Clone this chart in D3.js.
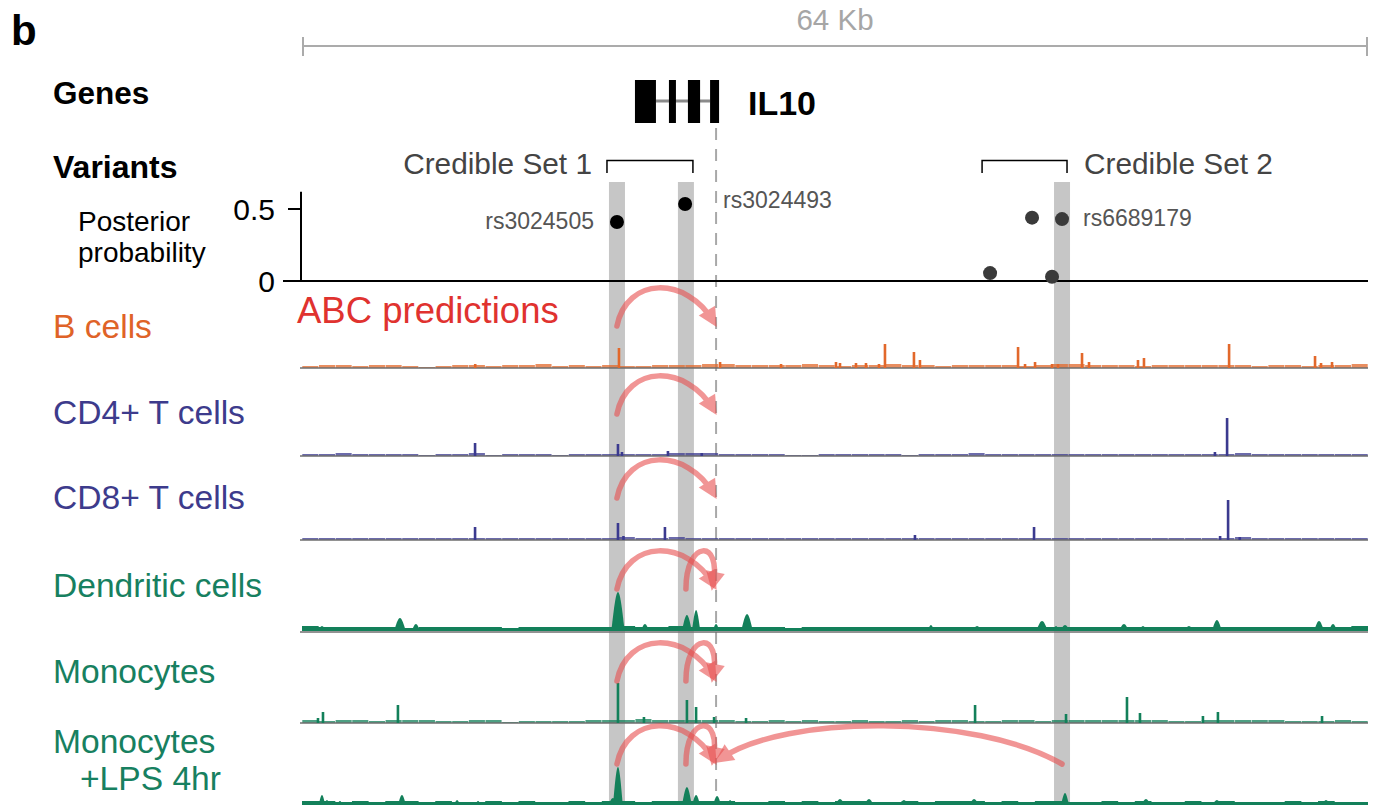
<!DOCTYPE html>
<html><head><meta charset="utf-8">
<script src="https://cdn.jsdelivr.net/npm/d3@7"></script>
<style>
body{margin:0;background:#fff}
svg{display:block}
text{font-family:"Liberation Sans",Arial,Helvetica,sans-serif}
</style>
</head><body>
<svg id="c" width="1376" height="805"></svg>
<script>
// ---------------- data ----------------
const regionKb = 64;
const scaleLabel = "64 Kb";
const geneName = "IL10";
const exons = [[19.99,21.25],[22.03,22.45],[23.17,23.9],[24.5,25.04]];
const intron = [21.25,24.5];
const tssKb = 24.86;
const credibleSets = ["Credible Set 1","Credible Set 2"];
const credibleStart = [18.31,40.83];
const credibleEnd = [23.47,45.93];
const variantPos = [18.91,23.0,41.31,43.83,45.63,45.03];
const variantPP  = [0.41,0.535,0.055,0.44,0.43,0.03];
const variantSet = [1,1,2,2,2,2];
const variantLabels = ["rs3024505","rs3024493","","","rs6689179",""];
const ppTicks = [0,0.5];
const ppTickLabels = ["0","0.5"];
const highlightKb = [18.91,23.05,45.63];
const trackNames = ["B cells","CD4+ T cells","CD8+ T cells","Dendritic cells","Monocytes","Monocytes|+LPS 4hr"];
const abcTitle = "ABC predictions";

// background signal, 1 kb bins (64 per track)
const bgB    = [2,3,3,2,3,3,2,1,2,3,3,2,3,3,4,2,3,2,3,2,2,3,3,3,4,4,3,3,3,3,4,3,2,3,3,4,3,3,2,3,3,3,3,2,3,4,4,3,3,3,2,3,3,3,3,3,3,2,3,3,2,3,3,4];
const bgCD4  = [2,2,3,2,2,2,2,1,2,2,3,1,2,2,2,1,2,2,2,2,2,2,3,3,3,2,2,2,2,1,1,2,2,2,2,2,1,2,2,2,3,2,2,2,2,2,2,2,2,2,2,2,2,2,2,2,3,2,2,2,2,2,2,2];
const bgCD8  = [2,2,2,2,2,2,2,2,2,2,2,2,2,2,2,2,2,2,2,3,2,2,3,2,2,2,2,2,2,2,2,2,2,2,2,2,2,2,2,2,2,2,2,2,2,2,2,2,2,2,2,2,2,2,2,2,3,2,2,2,2,2,2,2];
const bgDC   = [5,4,4,4,4,4,3,4,4,4,4,4,3,4,4,4,4,4,4,5,4,4,5,4,4,4,4,4,4,3,4,4,4,4,4,4,4,4,4,4,4,4,4,4,4,4,4,4,4,4,4,4,4,4,4,4,4,4,4,4,4,4,4,5];
const bgMono = [3,2,3,3,2,3,3,3,2,2,3,3,1,2,2,2,2,3,3,3,4,3,3,3,3,3,2,2,3,2,3,2,2,3,2,2,3,2,3,3,2,2,3,3,2,3,3,3,3,3,3,3,2,2,3,3,3,3,3,2,2,2,3,2];
const bgLPS  = [5,5,4,5,4,5,5,4,5,4,4,5,4,5,4,4,5,4,5,5,4,5,5,5,5,5,4,4,5,4,5,4,5,5,4,4,5,4,5,5,5,4,5,4,5,5,4,4,5,4,5,4,4,5,4,5,4,4,4,5,4,5,4,4];

// peaks [kb, height] (bars) or [kb, height, halfWidthKb] (hills)
const pkB = [[10.4,4],[19.03,20],[25.1,6],[28.76,4],[32.06,6],[32.3,5],[33.26,5],[33.86,5],[34.64,4],[35.0,24],[36.74,16],[37.1,8],[42.99,21],[43.41,4],[44.01,6],[45.03,4],[45.39,4],[46.83,15],[47.25,6],[50.19,8],[50.55,10],[55.66,24],[60.82,12],[61.18,5],[61.84,6]];
const pkCD4 = [[10.39,13],[18.97,12],[19.21,4],[21.97,5],[24.0,3],[54.81,4],[55.54,38]];
const pkCD8 = [[10.39,13],[18.97,17],[19.3,4],[21.79,13],[36.8,5],[43.95,13],[55.12,4],[55.6,40],[56.3,3]];
const pkDC = [[0.0,5,0.2],[1.2,5,0.25],[1.38,4,0.2],[3.36,4,0.25],[5.88,13,0.35],[6.84,7,0.25],[11.71,4,0.2],[14.89,4,0.2],[18.97,39,0.4],[20.59,7,0.25],[23.11,16,0.3],[23.66,21,0.25],[24.86,7,0.2],[26.72,17,0.35],[28.58,4,0.2],[37.76,6,0.2],[40.53,5,0.3],[44.43,10,0.35],[45.27,5,0.2],[45.81,6,0.3],[49.35,7,0.3],[50.49,5,0.25],[53.25,5,0.3],[54.93,11,0.3],[61.06,10,0.3],[61.9,7,0.25],[63.82,5,0.2]];
const pkMono = [[0.96,5],[1.26,11],[5.76,18],[18.97,40],[20.53,6],[23.11,23],[23.66,16],[24.74,6],[26.66,5],[40.41,18],[45.87,9],[49.53,26],[50.31,10],[54.09,7],[54.99,11],[61.24,7]];
const pkLPS = [[0.0,5,0.2],[1.2,11,0.2],[1.5,6,0.2],[2.28,5,0.2],[6.0,11,0.25],[9.31,6,0.2],[10.57,5,0.2],[13.09,5,0.2],[18.67,8,0.3],[18.97,39,0.3],[23.11,19,0.3],[23.66,11,0.25],[24.92,10,0.25],[25.7,6,0.2],[28.34,5,0.2],[32.3,7,0.3],[34.04,7,0.3],[36.14,6,0.3],[40.35,7,0.3],[45.81,13,0.25],[50.67,7,0.3],[54.93,6,0.3],[61.48,6,0.3]];

// ABC enhancer-gene links: [track index, enhancer kb, target kb]
const abcLinks = [[0,18.91,24.86],[1,18.91,24.86],[2,18.91,24.86],[3,18.91,24.86],[3,23.05,24.86],[4,18.91,24.86],[4,23.05,24.86],[5,18.91,24.86],[5,23.05,24.86],[5,45.63,24.86]];

// ---------------- drawing ----------------
const svg = d3.select("#c");
const x = d3.scaleLinear().domain([0, regionKb]).range([302, 1368]);

const tracks = [
  {bg:bgB,   pk:pkB,   type:"bar",  base:368, color:"#e2682b", label:"#df6328", ly:338},
  {bg:bgCD4, pk:pkCD4, type:"bar",  base:456, color:"#3b3a8f", label:"#3d3b8c", ly:424},
  {bg:bgCD8, pk:pkCD8, type:"bar",  base:540, color:"#3b3a8f", label:"#3d3b8c", ly:509},
  {bg:bgDC,  pk:pkDC,  type:"area", base:631, color:"#13805a", label:"#178060", ly:597},
  {bg:bgMono,pk:pkMono,type:"bar",  base:723, color:"#13805a", label:"#178060", ly:683},
  {bg:bgLPS, pk:pkLPS, type:"area", base:806, color:"#13805a", label:"#178060", ly:753}
];

// highlight bands
svg.append("g").selectAll("rect").data(highlightKb).join("rect")
  .attr("x", d => x(d) - 8).attr("width", 16)
  .attr("y", 182).attr("height", 805 - 182)
  .attr("fill", "#c6c6c6");

// scale bar
const sb = svg.append("g").attr("stroke", "#ababab").attr("stroke-width", 2);
sb.append("line").attr("x1", x(0)).attr("x2", x(regionKb)).attr("y1", 46).attr("y2", 46);
sb.append("line").attr("x1", x(0)+1).attr("x2", x(0)+1).attr("y1", 37).attr("y2", 56);
sb.append("line").attr("x1", x(regionKb)-1).attr("x2", x(regionKb)-1).attr("y1", 37).attr("y2", 56);
svg.append("text").attr("x", x(regionKb/2)).attr("y", 30).attr("text-anchor", "middle")
  .attr("font-size", 29.5).attr("fill", "#a6a6a6").text(scaleLabel);

// panel letter and row labels
svg.append("text").attr("x", 11).attr("y", 45).attr("font-size", 42).attr("font-weight", "bold").text("b");
svg.append("text").attr("x", 53).attr("y", 104).attr("font-size", 31.5).attr("font-weight", "bold").text("Genes");
svg.append("text").attr("x", 53).attr("y", 178).attr("font-size", 32).attr("font-weight", "bold").text("Variants");
svg.append("text").attr("x", 78).attr("y", 231).attr("font-size", 28).text("Posterior");
svg.append("text").attr("x", 78).attr("y", 262).attr("font-size", 28).text("probability");

// gene
svg.append("line").attr("x1", x(intron[0])).attr("x2", x(intron[1]))
  .attr("y1", 101).attr("y2", 101).attr("stroke", "#8a8a8a").attr("stroke-width", 3);
svg.append("g").selectAll("rect").data(exons).join("rect")
  .attr("x", d => x(d[0])).attr("width", d => x(d[1]) - x(d[0]))
  .attr("y", 80).attr("height", 43).attr("fill", "#000");
svg.append("text").attr("x", 748).attr("y", 115).attr("font-size", 34).attr("font-weight", "bold").text(geneName);

// TSS dashed line
svg.append("line").attr("x1", x(tssKb)).attr("x2", x(tssKb)).attr("y1", 128).attr("y2", 805)
  .attr("stroke", "#a8a8a8").attr("stroke-width", 2).attr("stroke-dasharray", "12,9");

// credible sets
credibleSets.forEach((name, i) => {
  const a = x(credibleStart[i]), b = x(credibleEnd[i]);
  svg.append("path").attr("d", `M${a},173V160.5H${b}V173`).attr("fill", "none")
    .attr("stroke", "#000").attr("stroke-width", 1.5);
  svg.append("text").attr("font-size", 29.8).attr("fill", "#444")
    .attr("x", i === 0 ? a - 15 : b + 17).attr("y", 174)
    .attr("text-anchor", i === 0 ? "end" : "start").text(name);
});

// posterior probability panel
const yPP = d3.scaleLinear().domain([0, 0.5]).range([281, 209]);
svg.append("line").attr("x1", 301).attr("x2", 301).attr("y1", yPP(0.62)).attr("y2", yPP(0))
  .attr("stroke", "#000").attr("stroke-width", 2);
svg.append("line").attr("x1", 283).attr("x2", x(regionKb)).attr("y1", yPP(0)).attr("y2", yPP(0))
  .attr("stroke", "#000").attr("stroke-width", 2);
ppTicks.forEach((t, i) => {
  svg.append("line").attr("x1", 288).attr("x2", 301).attr("y1", yPP(t)).attr("y2", yPP(t))
    .attr("stroke", "#000").attr("stroke-width", 2);
  svg.append("text").attr("x", 275).attr("y", yPP(t)).attr("dy", "0.35em")
    .attr("text-anchor", "end").attr("font-size", 30).text(ppTickLabels[i]);
});
svg.append("g").selectAll("circle").data(variantPos).join("circle")
  .attr("cx", d => x(d)).attr("cy", (d, i) => yPP(variantPP[i])).attr("r", 7)
  .attr("fill", (d, i) => variantSet[i] === 1 ? "#000" : "#3a3a3a");
variantLabels.forEach((lab, i) => {
  if (!lab) return;
  const left = i === 0;
  const dx = left ? -23 : (i === 1 ? 38 : 21);
  const dy = i === 1 ? 4 : 7;
  svg.append("text").attr("x", x(variantPos[i]) + dx).attr("y", yPP(variantPP[i]) + dy)
    .attr("text-anchor", left ? "end" : "start").attr("font-size", 23).attr("fill", "#555").text(lab);
});

// ABC title
svg.append("text").attr("x", 297).attr("y", 323).attr("font-size", 36.5).attr("fill", "#e0322f").text(abcTitle);

// tracks
tracks.forEach((t, ti) => {
  const y = d3.scaleLinear().domain([0, 45]).range([t.base, t.base - 45]);
  const g = svg.append("g");
  const parts = trackNames[ti].split("|");
  parts.forEach((p, k) => {
    g.append("text").attr("x", k === 0 ? 53 : 80).attr("y", t.ly + k * 37)
      .attr("font-size", 33.6).attr("fill", t.label).text(p);
  });
  if (t.type === "bar") {
    g.append("g").selectAll("rect").data(t.bg).join("rect")
      .attr("x", (d, i) => x(i) + 0.3).attr("width", (d, i) => x(i + 1) - x(i) - 0.6)
      .attr("y", d => y(d)).attr("height", d => t.base - y(d))
      .attr("fill", t.color).attr("opacity", 0.75);
    g.append("line").attr("x1", x(0) - 2).attr("x2", x(regionKb)).attr("y1", t.base).attr("y2", t.base)
      .attr("stroke", "#6e6e6e").attr("stroke-width", 1.6);
    g.append("g").selectAll("rect").data(t.pk).join("rect")
      .attr("x", d => x(d[0]) - 1.3).attr("width", 2.6)
      .attr("y", d => y(d[1])).attr("height", d => t.base - y(d[1]))
      .attr("fill", t.color);
  } else {
    g.append("line").attr("x1", x(0) - 2).attr("x2", x(regionKb)).attr("y1", t.base + 1).attr("y2", t.base + 1)
      .attr("stroke", "#6e6e6e").attr("stroke-width", 1.6);
    const bgPts = t.bg.map((v, i) => [i, v]).concat([[regionKb, t.bg[t.bg.length - 1]]]);
    const areaBg = d3.area().x(d => x(d[0])).y0(t.base).y1(d => y(d[1])).curve(d3.curveStepAfter);
    g.append("path").attr("d", areaBg(bgPts)).attr("fill", t.color);
    const areaPk = d3.area().x(d => x(d[0])).y0(t.base).y1(d => y(d[1])).curve(d3.curveMonotoneX);
    g.append("g").selectAll("path").data(t.pk).join("path")
      .attr("d", d => areaPk([[Math.max(0, d[0] - d[2]), 0], [d[0], d[1]], [Math.min(regionKb, d[0] + d[2]), 0]]))
      .attr("fill", t.color);
  }
});

// arrowhead marker
const defs = svg.append("defs");
defs.append("marker").attr("id", "ah").attr("markerUnits", "userSpaceOnUse")
  .attr("viewBox", "-2 -12 26 24").attr("markerWidth", 26).attr("markerHeight", 24)
  .attr("refX", 12).attr("refY", 0).attr("orient", "auto")
  .append("path").attr("d", "M0,-9.5L19,0L0,9.5Z").attr("fill", "#e85050");

// ABC arcs
const arcG = svg.append("g");
abcLinks.forEach(([ti, from, to]) => {
  const yb = tracks[ti].base - 42;
  const x1 = x(from), x2 = x(to), dx = x2 - x1;
  let c1x, c2x, H = 50;
  if (Math.abs(dx) < 40) { c1x = x1; c2x = x2 + 0.2 * dx; }
  else if (Math.abs(dx) > 200) { c1x = x1 + 0.25 * dx; c2x = x2 - 0.2 * dx; }
  else { c1x = x1 + 0.1 * dx; c2x = x2 - 0.3 * dx; }
  const ex = x2 - (dx > 0 ? 3 : -4), ey = yb - 5;
  arcG.append("g").attr("opacity", 0.6)
    .append("path")
    .attr("d", `M${x1},${yb}C${c1x},${yb - H} ${c2x},${yb - H} ${ex},${ey}`)
    .attr("fill", "none").attr("stroke", "#e85050").attr("stroke-width", 5.5)
    .attr("stroke-linecap", "round").attr("marker-end", "url(#ah)");
});
</script>
</body></html>
